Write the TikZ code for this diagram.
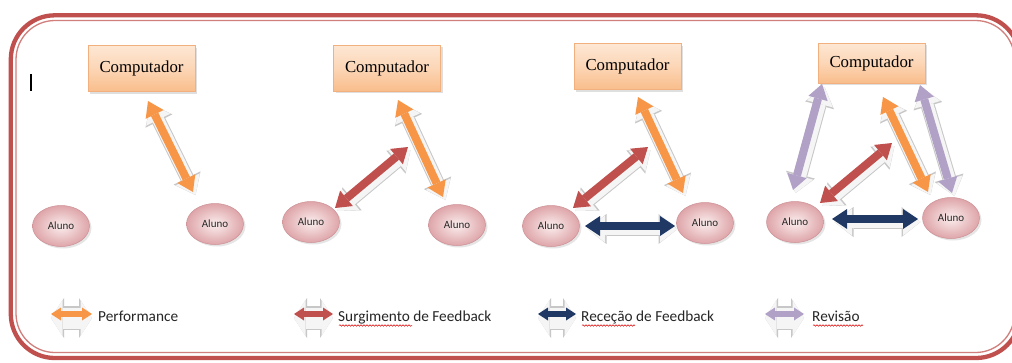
\documentclass[tikz,border=0pt]{standalone}
\usepackage{fontspec}
\setmainfont{Liberation Serif}
\newfontfamily\calib{Carlito}
\usetikzlibrary{arrows.meta,shadows,decorations.pathmorphing,shapes.geometric}
\definecolor{frameR}{HTML}{C0504D}
\definecolor{frameL}{HTML}{D07F7C}
\definecolor{perfO}{HTML}{F79646}
\definecolor{survR}{HTML}{C0504D}
\definecolor{recN}{HTML}{1F3864}
\definecolor{revP}{HTML}{B2A1C7}
\definecolor{compTop}{HTML}{FDE7D4}
\definecolor{compMid}{HTML}{FCD6B6}
\definecolor{compBot}{HTML}{F9BD8B}
\definecolor{compEdge}{HTML}{F2B07F}
\definecolor{alIn}{HTML}{FBEEEE}
\definecolor{alOut}{HTML}{DEA5A9}
\definecolor{alEdge}{HTML}{CC9095}
\tikzset{
  compbox/.style={rectangle, draw=compEdge, line width=0.8pt, top color=compTop, bottom color=compBot, middle color=compMid,
    minimum width=107pt, minimum height=46pt, inner sep=0pt, font=\fontsize{16.8}{19}\selectfont,
    drop shadow={shadow xshift=2pt, shadow yshift=-2pt, opacity=0.25}},
  alunonode/.style={ellipse, draw=alEdge, line width=0.5pt, inner color=alIn, outer color=alOut,
    minimum width=57pt, minimum height=41pt, inner sep=0pt, font=\calib\fontsize{11}{13}\selectfont, text=black!85,
    drop shadow={shadow xshift=2pt, shadow yshift=-2pt, opacity=0.2}},
  bigshadowA/.style={line width=14pt, draw=black!22, transform canvas={xshift=2.5pt,yshift=-3pt},
    {Triangle[length=19pt,width=30pt,line width=0pt]}-{Triangle[length=19pt,width=30pt,line width=0pt]}},
  bigshadowB/.style={line width=12pt, draw=black!4, transform canvas={xshift=2.5pt,yshift=-3pt},
    {Triangle[length=17.5pt,width=27pt,line width=0pt]}-{Triangle[length=17.5pt,width=27pt,line width=0pt]}},
  bigmain/.style={line width=8pt, draw=#1,
    {Triangle[length=15pt,width=20pt,line width=0pt]}-{Triangle[length=15pt,width=20pt,line width=0pt]}},
  legshadowA/.style={line width=24pt, draw=black!22, transform canvas={yshift=-4pt},
    {Triangle[length=13pt,width=40pt,line width=0pt]}-{Triangle[length=13pt,width=40pt,line width=0pt]}},
  legshadowB/.style={line width=21pt, draw=black!4, transform canvas={yshift=-4pt},
    {Triangle[length=11.5pt,width=36pt,line width=0pt]}-{Triangle[length=11.5pt,width=36pt,line width=0pt]}},
  legmain/.style={line width=6pt, draw=#1,
    {Triangle[length=10pt,width=13pt,line width=0pt]}-{Triangle[length=10pt,width=13pt,line width=0pt]}},
  legtext/.style={anchor=base west, inner sep=0pt, font=\calib\fontsize{15.3}{18}\selectfont, text=black!85},
  spell/.style={draw=red!85!black, line width=0.5pt, decorate, decoration={snake, amplitude=0.8pt, segment length=3pt}}
}
\newcommand{\dArrow}[3]{%
  \draw[bigshadowA] (#2) -- (#3);
  \draw[bigshadowB] (#2) -- (#3);
  \draw[bigmain=#1] (#2) -- (#3);}
\newcommand{\lArrow}[3]{%
  \draw[legshadowA] (#2) -- (#3);
  \draw[legshadowB] (#2) -- (#3);
  \draw[legmain=#1] (#2) -- (#3);}
\begin{document}
\begin{tikzpicture}[x=1pt,y=-1pt]
\clip (0,0) rectangle (1012,362);
\fill[white] (0,0) rectangle (1012,362);
% frame
\draw[frameR, line width=4.3pt, rounded corners=44pt] (10.8,15.3) rectangle (1020,358);
\draw[frameL, line width=1.3pt, rounded corners=39pt] (16,20.5) rectangle (1014.5,352.5);
% cursor
\draw[line width=1.1pt] (31,74) -- (31,91);
% ---------- panel 1
\node[compbox] (c1) at (141.5,68.5) {Computador};
\node[alunonode] (a1L) at (61,226) {Aluno};
\node[alunonode] (a1R) at (215,224) {Aluno};
\coordinate (o1a) at (148,101);
\coordinate (o1b) at (193,192);
\dArrow{perfO}{o1a}{o1b}
% ---------- panel 2
\node[compbox] (c2) at (387,68) {Computador};
\node[alunonode] (a2L) at (311,222) {Aluno};
\node[alunonode] (a2R) at (457,225) {Aluno};
\coordinate (o2a) at (398,100);
\coordinate (o2b) at (443,197);
\coordinate (r2a) at (408,147);
\coordinate (r2b) at (335,208);
\dArrow{perfO}{o2a}{o2b}
\dArrow{survR}{r2a}{r2b}
% ---------- panel 3
\node[compbox] (c3) at (627.5,66.5) {Computador};
\node[alunonode] (a3L) at (551,226) {Aluno};
\node[alunonode] (a3R) at (705,223) {Aluno};
\coordinate (o3a) at (638,97);
\coordinate (o3b) at (683,193);
\coordinate (r3a) at (648,147);
\coordinate (r3b) at (573,208);
\coordinate (n3a) at (585,226);
\coordinate (n3b) at (675,226);
\dArrow{perfO}{o3a}{o3b}
\dArrow{survR}{r3a}{r3b}
\dArrow{recN}{n3a}{n3b}
% ---------- panel 4
\node[compbox, minimum height=40pt] (c4) at (871.5,63) {Computador};
\node[alunonode] (a4L) at (795,222) {Aluno};
\node[alunonode] (a4R) at (951,218) {Aluno};
\coordinate (p4a) at (822,84);
\coordinate (p4b) at (793,190);
\coordinate (o4a) at (883,97);
\coordinate (o4b) at (928,192);
\coordinate (q4a) at (920,85);
\coordinate (q4b) at (952,193);
\coordinate (r4a) at (892,143);
\coordinate (r4b) at (820,203);
\coordinate (n4a) at (832,219);
\coordinate (n4b) at (918,219);
\dArrow{revP}{p4a}{p4b}
\dArrow{perfO}{o4a}{o4b}
\dArrow{revP}{q4a}{q4b}
\dArrow{survR}{r4a}{r4b}
\dArrow{recN}{n4a}{n4b}
% ---------- legend
\coordinate (l1a) at (51,314);
\coordinate (l1b) at (92,314);
\coordinate (l2a) at (294,314);
\coordinate (l2b) at (333,314);
\coordinate (l3a) at (538,314);
\coordinate (l3b) at (576,314);
\coordinate (l4a) at (765,314);
\coordinate (l4b) at (804,314);
\lArrow{perfO}{l1a}{l1b}
\lArrow{survR}{l2a}{l2b}
\lArrow{recN}{l3a}{l3b}
\lArrow{revP}{l4a}{l4b}
\node[legtext] (t1) at (98,321) {Performance};
\node[legtext] (t2) at (338,321) {Surgimento de Feedback};
\node[legtext] (t3) at (581,321) {Receção de Feedback};
\node[legtext] (t4) at (812,321) {Revisão};
\draw[spell] (339,325.5) -- (412,325.5);
\draw[spell] (582,325.5) -- (635,325.5);
\draw[spell] (813,325.5) -- (863,325.5);
\end{tikzpicture}
\end{document}
